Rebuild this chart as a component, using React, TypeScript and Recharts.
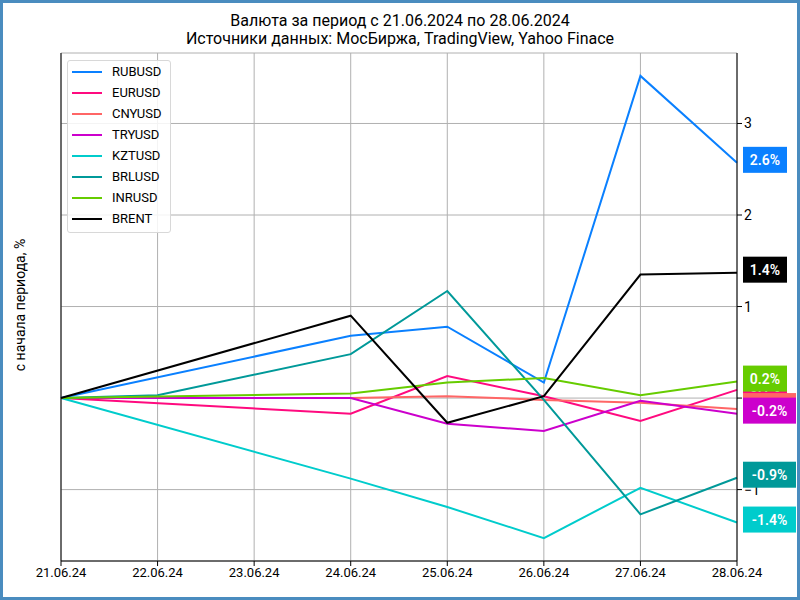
import React from 'react';
import { CartesianGrid, Line, LineChart, XAxis, YAxis } from 'recharts';

const days = ['21.06.24', '22.06.24', '23.06.24', '24.06.24', '25.06.24', '26.06.24', '27.06.24', '28.06.24'];

// % change from period start; weekends missing (null)
const RUBUSD = [0, null, null, 0.68, 0.78, 0.17, 3.52, 2.57];
const EURUSD = [0, null, null, -0.17, 0.24, 0.02, -0.25, 0.09];
const CNYUSD = [0, null, null, 0.0, 0.02, -0.02, -0.05, -0.12];
const TRYUSD = [0, null, null, 0.0, -0.28, -0.36, -0.03, -0.17];
const KZTUSD = [0, null, null, -0.88, -1.19, -1.53, -0.98, -1.36];
const BRLUSD = [0, 0.03, null, 0.48, 1.17, -0.02, -1.27, -0.87];
const INRUSD = [0, null, null, 0.05, 0.17, 0.22, 0.03, 0.18];
const BRENT = [0, null, null, 0.9, -0.27, 0.02, 1.35, 1.37];

const series = [
    { name: 'RUBUSD', values: RUBUSD, color: '#0a80ff' },
    { name: 'EURUSD', values: EURUSD, color: '#ff0a7f' },
    { name: 'CNYUSD', values: CNYUSD, color: '#ff6666' },
    { name: 'TRYUSD', values: TRYUSD, color: '#cc00cc' },
    { name: 'KZTUSD', values: KZTUSD, color: '#00cccc' },
    { name: 'BRLUSD', values: BRLUSD, color: '#009999' },
    { name: 'INRUSD', values: INRUSD, color: '#66cc00' },
    { name: 'BRENT', values: BRENT, color: '#000000' },
];

const yTicks = [-1, 0, 1, 2, 3];
const yDomain = [-1.78, 3.77];

const data = days.map((d, i) => {
    const row: Record<string, number | null> = { x: i };
    series.forEach((s) => { row[s.name] = s.values[i]; });
    return row;
});

const font = 'Roboto, "DejaVu Sans", sans-serif';

const makeTag = (color: string) => (props: any) => {
    const { x, y, index, value } = props;
    if (index !== days.length - 1 || value == null) return null;
    const txt = `${Number(value).toFixed(1)}%`;
    const w = txt.length * 9 + 8;
    return (
        <g>
            <rect x={x + 6} y={y - 16} width={w} height={26} fill={color} />
            <text x={x + 6 + w / 2} y={y + 2} fill="#fff" fontSize={14} fontWeight={600} textAnchor="middle" fontFamily={font}>
                {txt}
            </text>
        </g>
    );
};

export default function App() {
    return (
        <div style={{ position: 'absolute', left: 0, top: 0, width: 800, height: 600, background: '#fff', fontFamily: font }}>
            <div style={{ position: 'absolute', inset: 0, border: '3px solid #4a8cbf', boxSizing: 'border-box', pointerEvents: 'none', zIndex: 5 }} />
            <div style={{ position: 'absolute', top: 12, left: 0, width: 800, textAlign: 'center', fontSize: 16, lineHeight: '18px', color: '#000' }}>
                <div>Валюта за период с 21.06.2024 по 28.06.2024</div>
                <div>Источники данных: МосБиржа, TradingView, Yahoo Finace</div>
            </div>
            <div style={{ position: 'absolute', left: 20, top: 305, width: 0, height: 0 }}>
                <div style={{ position: 'absolute', transform: 'translate(-50%, -50%) rotate(-90deg)', whiteSpace: 'nowrap', fontSize: 14 }}>
                    с начала периода, %
                </div>
            </div>
            <LineChart width={800} height={600} data={data} margin={{ top: 53, right: 0, bottom: 0, left: 0 }} style={{ position: 'absolute', left: 0, top: 0 }}>
                <CartesianGrid stroke="#b0b0b0" vertical horizontal yAxisId="r" />
                <XAxis
                    dataKey="x"
                    type="number"
                    domain={[0, 7]}
                    ticks={[0, 1, 2, 3, 4, 5, 6, 7]}
                    tickFormatter={(v) => days[v]}
                    height={39}
                    stroke="#000"
                    tickSize={5}
                    tick={{ fill: '#000', fontSize: 13, fontFamily: font }}
                    interval={0}
                />
                <XAxis xAxisId="top" orientation="top" dataKey="x" type="number" domain={[0, 7]} height={0} tick={false} tickLine={false} stroke="#000" />
                <YAxis yAxisId="l" type="number" domain={yDomain} ticks={yTicks} width={61} tick={false} tickLine={false} stroke="#000" allowDataOverflow />
                <YAxis
                    yAxisId="r"
                    orientation="right"
                    type="number"
                    domain={yDomain}
                    ticks={yTicks}
                    width={63}
                    stroke="#000"
                    tickSize={5}
                    allowDataOverflow
                    tick={{ fill: '#000', fontSize: 14, fontFamily: font, textAnchor: 'start' }}
                    tickFormatter={(v) => (v < 0 ? `−${Math.abs(v)}` : `${v}`)}
                />
                {series.map((s) => (
                    <Line
                        key={s.name}
                        yAxisId="r"
                        type="linear"
                        dataKey={s.name}
                        stroke={s.color}
                        strokeWidth={2}
                        dot={false}
                        connectNulls
                        isAnimationActive={false}
                        label={makeTag(s.color)}
                    />
                ))}
            </LineChart>
            <div style={{ position: 'absolute', left: 67, top: 60, width: 102, padding: '0 0 3px 0', border: '1px solid #d8d8d8', borderRadius: 3, background: 'rgba(255,255,255,0.85)', zIndex: 3 }}>
                {series.map((s) => (
                    <div key={s.name} style={{ display: 'flex', alignItems: 'center', height: 21, fontSize: 13 }}>
                        <div style={{ width: 30, height: 2, background: s.color, marginLeft: 4, marginRight: 10 }} />
                        <span>{s.name}</span>
                    </div>
                ))}
            </div>
        </div>
    );
}
